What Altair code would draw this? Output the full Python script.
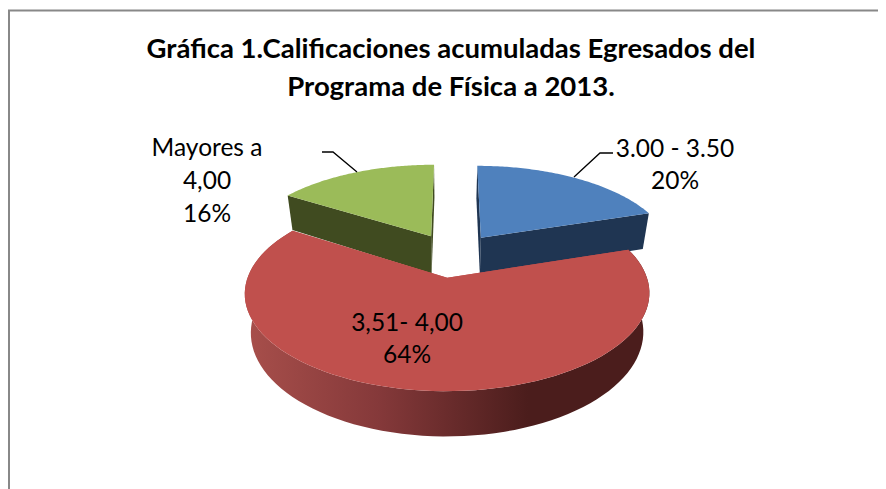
import numpy as np
import pandas as pd
import altair as alt

# ---- data
categories = ["3.00 - 3.50", "3,51- 4,00", "Mayores a 4,00"]
shares = [20, 64, 16]
top_colors = ["#4F81BD", "#C0504D", "#9BBB59"]
side_colors = ["#1F3552", "#C0504D", "#404B20"]
title_lines = ["Gráfica 1.Calificaciones acumuladas Egresados del", "Programa de Física a 2013."]
label_lines = [["3.00 - 3.50", "20%"], ["3,51- 4,00", "64%"], ["Mayores a", "4,00", "16%"]]

# ---- layout (pixels of the page, perspective disc)
CX, CY, A, B, K = 453.5, 255.0, 192.0, 88.0, 0.155
EXPLODE, SHRINK, BOTTOM_CX = 0.25, 0.97, 447.5
DEPTH_BY_SLICE = [38.5, 36.5, 38.5]
WIDTH, HEIGHT = 870, 481
X_DOM, Y_DOM = [8, 8 + WIDTH], [8 + HEIGHT, 8]
x_s = alt.X("x:Q", scale=alt.Scale(domain=X_DOM), axis=None)
y_s = alt.Y("y:Q", scale=alt.Scale(domain=Y_DOM), axis=None)


def project(u, v, depth=None):
    w = 1 + K * v
    X = CX + A * u / w
    Y = CY - B * v / w
    if depth is not None:
        X = BOTTOM_CX + SHRINK * (X - BOTTOM_CX)
        Y = Y + depth / w
    return X, Y


def poly(xs, ys, fill):
    df = pd.DataFrame({"x": xs, "y": ys, "i": np.arange(len(xs))})
    return alt.Chart(df).mark_line(fill=fill, strokeOpacity=0, interpolate="linear").encode(
        x=x_s, y=y_s, order=alt.Order("i:Q"))


red_gradient = alt.Gradient(
    gradient="linear", x1=0, x2=1, y1=0, y2=0,
    stops=[alt.GradientStop(offset=0, color="#A84F4B"),
           alt.GradientStop(offset=0.33, color="#85393A"),
           alt.GradientStop(offset=0.7, color="#4B1D1C"),
           alt.GradientStop(offset=1, color="#4B1D1C")])

layers = []
fracs = np.cumsum([0] + shares) / sum(shares) * 2 * np.pi
draw_order = [0, 2, 1]
for s in draw_order:
    t0, t1 = fracs[s], fracs[s + 1]
    mid = (t0 + t1) / 2
    ex, ey = EXPLODE * np.sin(mid), EXPLODE * np.cos(mid)
    th = np.linspace(t0, t1, 90)
    u, v = np.sin(th) + ex, np.cos(th) + ey
    d = DEPTH_BY_SLICE[s]
    ax0, ay0 = project(ex, ey)
    ax1, ay1 = project(ex, ey, d)
    tx, ty = project(u, v)
    bx, by = project(u, v, d)
    # two cut faces
    for i in (0, -1):
        layers.append(poly([ax0, tx[i], bx[i], ax1], [ay0, ty[i], by[i], ay1], side_colors[s]))
    # outer wall
    if s == 1:
        layers.append(poly(list(tx) + list(bx[::-1]), list(ty) + list(by[::-1]), red_gradient))
    # top surface
    layers.append(poly([ax0] + list(tx), [ay0] + list(ty), top_colors[s]))

# frame
frame = pd.DataFrame({"x": [9, 9, 8 + WIDTH], "y": [8 + HEIGHT, 10.5, 10.5], "i": [0, 1, 2]})
layers.append(alt.Chart(frame).mark_line(color="#888888", strokeWidth=2).encode(
    x=x_s, y=y_s, order=alt.Order("i:Q")))

# leader lines
leaders = [([613, 600, 574], [153, 153, 177]), ([322, 333, 357], [152, 152, 172])]
for lx, ly in leaders:
    df = pd.DataFrame({"x": lx, "y": ly, "i": range(len(lx))})
    layers.append(alt.Chart(df).mark_line(color="#000000", strokeWidth=1.3).encode(
        x=x_s, y=y_s, order=alt.Order("i:Q")))

# text
rows = []
FS_TITLE, FS_LABEL = 27.5, 24.5
for line, yb in zip(title_lines, [58, 96]):
    rows.append({"t": line, "x": 451, "y": yb, "s": FS_TITLE, "w": "bold"})
label_pos = [(675, [157, 189]), (407, [331, 363]), (207, [156, 189, 222])]
for lines, (lxp, ys) in zip(label_lines, label_pos):
    for line, yb in zip(lines, ys):
        rows.append({"t": line, "x": lxp, "y": yb, "s": FS_LABEL, "w": "normal"})
txt = pd.DataFrame(rows)
for w in ("bold", "normal"):
    sub = txt[txt.w == w]
    layers.append(alt.Chart(sub).mark_text(
        font="Lato", fontWeight=w, fontSize=float(sub.s.iloc[0]), align="center",
        baseline="alphabetic", color="#000000").encode(x=x_s, y=y_s, text="t:N"))

chart = alt.layer(*layers).properties(
    width=WIDTH, height=HEIGHT, padding=0, autosize=alt.AutoSizeParams(type="none"),
    background="#FFFFFF"
).configure_view(stroke=None)

chart.save("out.html", embed_options={"renderer": "svg", "actions": False})
